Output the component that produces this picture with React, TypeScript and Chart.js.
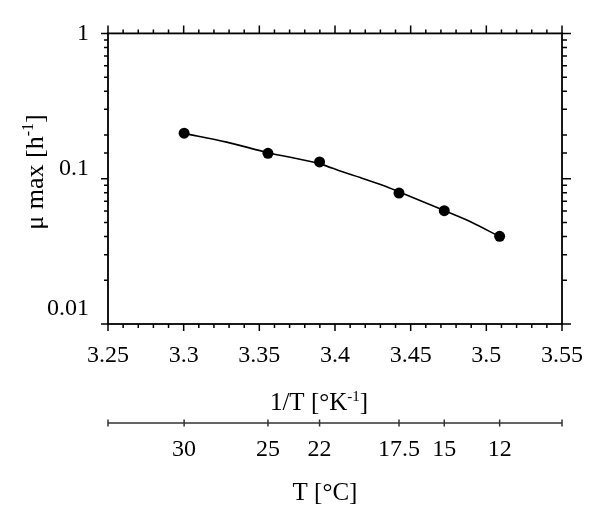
import React, { useEffect, useRef } from "react";
import { Chart, registerables } from "chart.js";

Chart.register(...registerables);

// 1/T values (1000/K) of the measured temperatures
const invT = [3.3003, 3.3557, 3.3898, 3.4423, 3.4722, 3.5088];
// measured maximum growth rates [1/h]
const muMax = [0.2056, 0.1494, 0.1305, 0.0797, 0.0602, 0.0401];
// fitted curve
const curveX = [3.3003, 3.3284, 3.3559, 3.3899, 3.4049, 3.4167, 3.4324, 3.4422, 3.4722, 3.4899, 3.5082];
const curveY = [0.205, 0.1785, 0.151, 0.1265, 0.1115, 0.1018, 0.0893, 0.0812, 0.0604, 0.0504, 0.0402];
// temperature axis labels (°C)
const tempLabels = ["30", "25", "22", "17.5", "15", "12"];
// y decade labels
const yDecades = [0.01, 0.1, 1];
const yDecadeLabels = ["0.01", "0.1", "1"];

const xMin = 3.25;
const xMax = 3.55;
const xStep = 0.05;
const xMinorStep = 0.01;
const yMin = 0.01;
const yMax = 1;

const FONT = "'Liberation Serif', 'Times New Roman', Times, serif";

const near = (a: number, b: number) => Math.abs(a - b) < 1e-9 * Math.max(1, Math.abs(b));

function decadeIndex(v: number) {
  for (let i = 0; i < yDecades.length; i++) if (near(v, yDecades[i])) return i;
  return -1;
}

type Part = { t: string; sup?: boolean };

function drawSupText(ctx: CanvasRenderingContext2D, parts: Part[], cx: number, by: number, size: number) {
  const supSize = Math.round(size * 0.6);
  const normal = `${size}px ${FONT}`;
  const sup = `${supSize}px ${FONT}`;
  let total = 0;
  const widths = parts.map((p) => {
    ctx.font = p.sup ? sup : normal;
    const w = ctx.measureText(p.t).width;
    total += w;
    return w;
  });
  let x = cx - total / 2;
  ctx.textAlign = "left";
  ctx.textBaseline = "alphabetic";
  ctx.fillStyle = "#000";
  parts.forEach((p, i) => {
    ctx.font = p.sup ? sup : normal;
    ctx.fillText(p.t, x, p.sup ? by - size * 0.38 : by);
    x += widths[i];
  });
}

const framePlugin = {
  id: "framePlugin",
  afterDraw(chart: any) {
    const ctx: CanvasRenderingContext2D = chart.ctx;
    const xs = chart.scales.x;
    const ys = chart.scales.y;
    const x2 = chart.scales.x2;
    const { left, right, top, bottom } = chart.chartArea;
    ctx.save();
    ctx.strokeStyle = "#000";
    ctx.lineWidth = 1.8;
    ctx.strokeRect(left, top, right - left, bottom - top);

    // x ticks (bottom and top)
    const n = Math.round((xMax - xMin) / xMinorStep);
    const per = Math.round(xStep / xMinorStep);
    ctx.lineWidth = 1.5;
    ctx.beginPath();
    for (let k = 0; k <= n; k++) {
      const px = xs.getPixelForValue(xMin + k * xMinorStep);
      const major = k % per === 0;
      ctx.moveTo(px, bottom);
      ctx.lineTo(px, bottom + (major ? 7 : 4));
      ctx.moveTo(px, top);
      ctx.lineTo(px, top - (major ? 8 : 4));
    }
    // y ticks (left and right)
    ys.ticks.forEach((t: any) => {
      const py = ys.getPixelForValue(t.value);
      const major = decadeIndex(t.value) >= 0;
      ctx.moveTo(left, py);
      ctx.lineTo(left - (major ? 7 : 4), py);
      ctx.moveTo(right, py);
      ctx.lineTo(right + (major ? 9 : 5), py);
    });
    ctx.stroke();

    // temperature axis
    const ty = x2.top;
    ctx.strokeStyle = "#333";
    ctx.lineWidth = 1.5;
    ctx.beginPath();
    ctx.moveTo(left, ty);
    ctx.lineTo(right, ty);
    const tpos = [x2.left, ...x2.ticks.map((t: any) => x2.getPixelForValue(t.value)), x2.right];
    tpos.forEach((px: number) => {
      ctx.moveTo(px, ty - 3.5);
      ctx.lineTo(px, ty + 3.5);
    });
    ctx.stroke();

    // axis titles
    drawSupText(ctx, [{ t: "1/T [°K" }, { t: "-1", sup: true }, { t: "]" }], 319, 410, 25);
    drawSupText(ctx, [{ t: "T [°C]" }], 325, 500, 25);
    ctx.save();
    ctx.translate(43, 172);
    ctx.rotate(-Math.PI / 2);
    drawSupText(ctx, [{ t: "μ max [h" }, { t: "-1", sup: true }, { t: "]" }], 0, 0, 26);
    ctx.restore();
    ctx.restore();
  },
};

export default function App() {
  const ref = useRef<HTMLCanvasElement | null>(null);

  useEffect(() => {
    document.body.style.margin = "0";
    document.body.style.overflow = "hidden";
    const canvas = ref.current;
    if (!canvas) return;
    const tickFont = { family: FONT, size: 24 };
    const chart = new Chart(canvas, {
      type: "scatter",
      data: {
        datasets: [
          {
            label: "fit",
            data: curveX.map((x, i) => ({ x, y: curveY[i] })),
            showLine: true,
            borderColor: "#000",
            borderWidth: 1.6,
            pointRadius: 0,
            cubicInterpolationMode: "monotone",
          } as any,
          {
            label: "μmax",
            data: invT.map((x, i) => ({ x, y: muMax[i] })),
            showLine: false,
            pointRadius: 5.5,
            pointBackgroundColor: "#000",
            pointBorderColor: "#000",
            pointBorderWidth: 0,
          } as any,
        ],
      },
      options: {
        animation: false,
        responsive: false,
        layout: { padding: { top: 32, right: 33, left: 0, bottom: 0 } },
        plugins: { legend: { display: false }, tooltip: { enabled: false } },
        scales: {
          x: {
            type: "linear",
            position: "bottom",
            weight: 0,
            min: xMin,
            max: xMax,
            grid: { display: false, drawTicks: false },
            border: { display: false },
            ticks: {
              stepSize: xStep,
              autoSkip: false,
              maxRotation: 0,
              padding: 17,
              color: "#000",
              font: tickFont,
              callback: (v: any) => String(Number(Number(v).toFixed(2))),
            },
            afterFit: (s: any) => {
              s.height = 99;
            },
          },
          x2: {
            type: "linear",
            position: "bottom",
            weight: 1,
            min: xMin,
            max: xMax,
            grid: { display: false, drawTicks: false },
            border: { display: false },
            afterBuildTicks: (s: any) => {
              s.ticks = invT.map((v) => ({ value: v }));
            },
            ticks: {
              autoSkip: false,
              maxRotation: 0,
              padding: 12,
              color: "#000",
              font: tickFont,
              callback: (_v: any, i: number) => tempLabels[i],
            },
            afterFit: (s: any) => {
              s.height = 100;
            },
          },
          y: {
            type: "logarithmic",
            min: yMin,
            max: yMax,
            grid: { display: false, drawTicks: false },
            border: { display: false },
            ticks: {
              autoSkip: false,
              padding: 19,
              color: "#000",
              font: (c: any) => {
                const v = c.tick ? c.tick.value : 1;
                let lh: number = 1.2;
                if (near(v, 0.1)) lh = 19 / 24;
                if (near(v, 0.01)) lh = 31.4 / 24;
                return { family: FONT, size: 24, lineHeight: lh };
              },
              callback: (v: any) => {
                const i = decadeIndex(Number(v));
                if (i < 0) return "";
                if (i === yDecades.length - 1) return yDecadeLabels[i];
                return [yDecadeLabels[i], ""];
              },
            },
            afterFit: (s: any) => {
              s.width = 108;
            },
          },
        },
      } as any,
      plugins: [framePlugin],
    });
    return () => chart.destroy();
  }, []);

  return (
    <div style={{ width: 600, height: 523, background: "#fff" }}>
      <canvas ref={ref} width={600} height={523} style={{ display: "block" }} />
    </div>
  );
}
